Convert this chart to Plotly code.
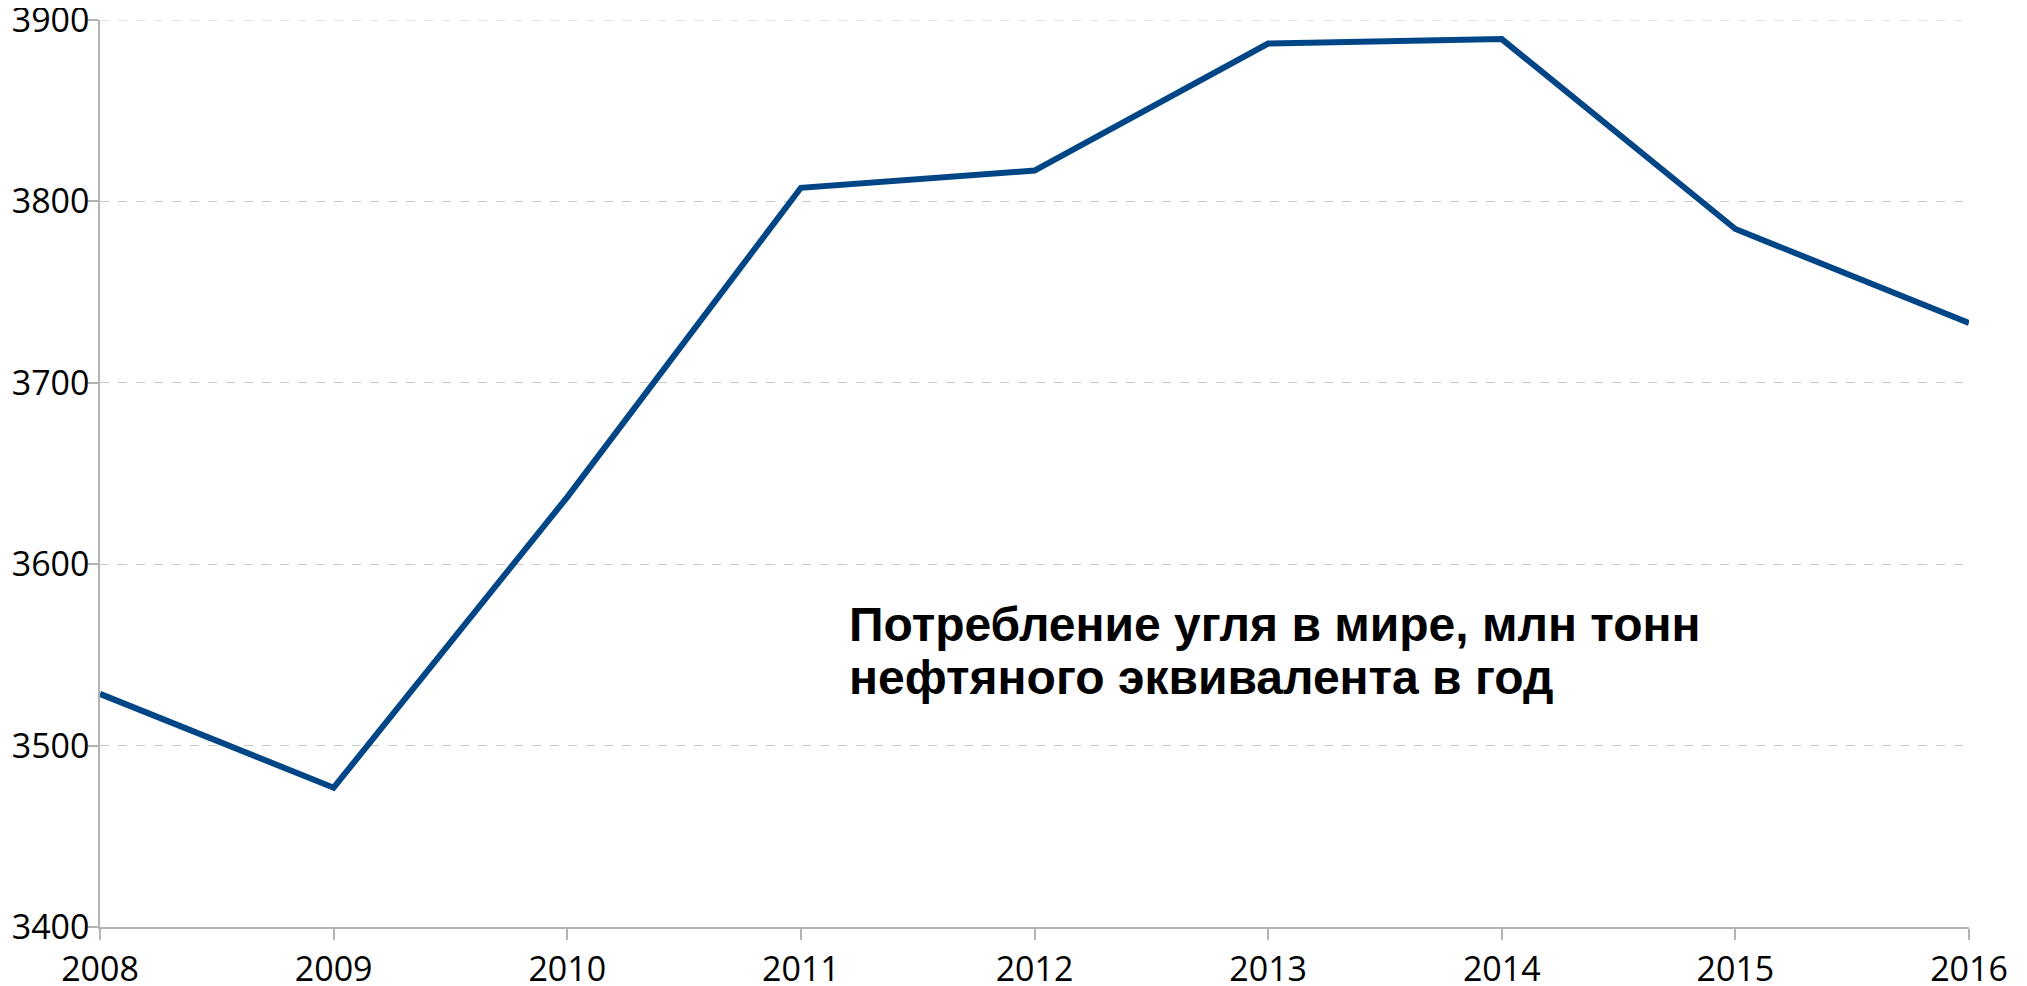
import plotly.graph_objects as go

years = [2008, 2009, 2010, 2011, 2012, 2013, 2014, 2015, 2016]
consumption = [3528.5, 3476.8, 3637, 3807.5, 3817, 3887, 3889.5, 3784.8, 3733]
y_ticks = [3400, 3500, 3600, 3700, 3800, 3900]
title_lines = ["Потребление угля в мире, млн тонн", "нефтяного эквивалента в год"]

fig = go.Figure()
fig.add_trace(go.Scatter(
    x=years, y=consumption, mode="lines",
    line=dict(color="#004586", width=6),
    hoverinfo="x+y", showlegend=False,
))

# top gridline (plotly skips gridlines at the very edge of the range)
fig.add_shape(type="line", xref="paper", yref="y", x0=0, x1=1, y0=y_ticks[-1], y1=y_ticks[-1],
              line=dict(color="#c8c8c8", width=1, dash="dash"), layer="below")

for i, t in enumerate(title_lines):
    fig.add_annotation(
        text="<b>" + t + "</b>", xref="paper", yref="paper",
        x=0.3995, y=0.3335 - i * 0.058, xanchor="left", yanchor="middle",
        showarrow=False, font=dict(family="Liberation Sans, Arial, sans-serif", size=48, color="#000000"),
    )

fig.update_layout(
    width=2019, height=978,
    margin=dict(l=92, r=58, t=12, b=59, autoexpand=False),
    paper_bgcolor="white", plot_bgcolor="white",
    font=dict(family="Open Sans, sans-serif", size=34, color="#000000"),
    xaxis=dict(
        range=[2008, 2016], tickmode="array", tickvals=years,
        ticktext=[str(y) for y in years],
        showgrid=False, zeroline=False, automargin=False,
        showline=True, linecolor="#b3b3b3", linewidth=1.5,
        ticks="outside", ticklen=11, tickcolor="#b3b3b3", tickwidth=1.5,
        tickfont=dict(size=34, color="#000000"),
        ticklabeloverflow="allow",
    ),
    yaxis=dict(
        range=[3400, 3900], tickmode="array", tickvals=y_ticks,
        showgrid=True, gridcolor="#c8c8c8", griddash="dash", gridwidth=1,
        zeroline=False, automargin=False,
        showline=True, linecolor="#b3b3b3", linewidth=1.5,
        ticks="outside", ticklen=10, tickcolor="#b3b3b3", tickwidth=1.5,
        tickfont=dict(size=34, color="#000000"),
        ticklabeloverflow="allow", ticklabelstandoff=-8,
    ),
)

fig.write_html("out.html")
